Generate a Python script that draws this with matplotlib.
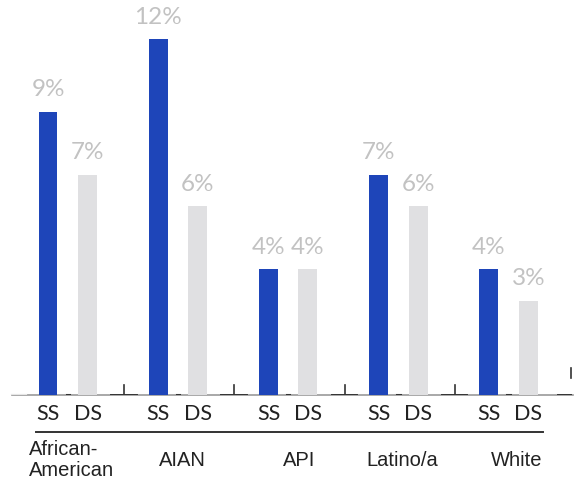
import numpy as np
import matplotlib.pyplot as plt

# Data
groups = ['African-\nAmerican', 'AIAN', 'API', 'Latino/a', 'White']
ss = [9.0, 11.3, 4.0, 7.0, 4.0]
ds = [7.0, 6.0, 4.0, 6.0, 3.0]
ss_labels = ['9%', '12%', '4%', '7%', '4%']
ds_labels = ['7%', '6%', '4%', '6%', '3%']

blue = '#1e45b9'
grey = '#e0e0e2'
label_col = '#c2c2c2'

fig = plt.figure(figsize=(5.74, 4.84), dpi=100)
unit = 39.5  # px per data unit
ax = fig.add_axes([0, 89 / 484, 1, 395 / 484])
ax.set_xlim(-48 / unit, (574 - 48) / unit)
ax.set_ylim(0, 395 / 31.5)
ax.axis('off')

step = 2.79
x = np.arange(len(groups)) * step
w = 0.48

ax.bar(x, ss, width=w, color=blue, zorder=3)
ax.bar(x + 1, ds, width=w, color=grey, zorder=3)

for xi, v, t in zip(x, ss, ss_labels):
    ax.text(xi, v + 0.36, t, ha='center', va='bottom', fontsize=17.5,
            color=label_col, family='Lato')
for xi, v, t in zip(x, ds, ds_labels):
    ax.text(xi + 1, v + 0.36, t, ha='center', va='bottom', fontsize=17.5,
            color=label_col, family='Lato')

# baseline and little marks
ax.plot([-0.9, 13.3], [0, 0], color='#9a9a9a', lw=1.2, zorder=2, clip_on=False)
ax.plot([-0.9, -0.55], [0, 0], color='#e6e6e6', lw=1.6, zorder=2)
for xi in x:
    ax.plot([xi + 0.47, xi + 0.53], [0, 0], color='#333333', lw=2.2, zorder=4)
for xi in x[:-1]:
    ax.plot([xi + 1.6, xi + 2.25], [0, 0], color='#333333', lw=1.4, zorder=4)
    ax.plot([xi + 1.93, xi + 1.93], [0, 0.32], color='#333333', lw=1.2, zorder=4)
ax.plot([x[-1] + 1.75, x[-1] + 2.07], [0, 0], color='#333333', lw=1.4, zorder=4)
ax.plot([x[-1] + 2.08, x[-1] + 2.08], [0.55, 0.85], color='#333333', lw=1.2, zorder=4)

# SS / DS sub labels
for xi in x:
    ax.text(xi, -0.6, 'SS', ha='center', va='center', fontsize=15.5,
            color='#222222', family='Lato')
    ax.text(xi + 1, -0.6, 'DS', ha='center', va='center', fontsize=15.5,
            color='#222222', family='Lato')

# separator line
ax.plot([-0.3, 12.52], [-1.16, -1.16], color='#333333', lw=1.4, clip_on=False)

# group labels
offsets = [0.1, 0.1, 0.28, 0.1, 0.2]
for xi, g, o in zip(x, groups, offsets):
    if '\n' in g:
        ax.text(-0.48, -2.06, g, ha='left', va='center', fontsize=14.5,
                color='#222222', family='Liberation Sans', linespacing=1.1)
    else:
        ax.text(xi + 0.5 + o, -2.07, g, ha='center', va='center', fontsize=14.5,
                color='#222222', family='Liberation Sans')

plt.savefig('out.png', dpi=100)
